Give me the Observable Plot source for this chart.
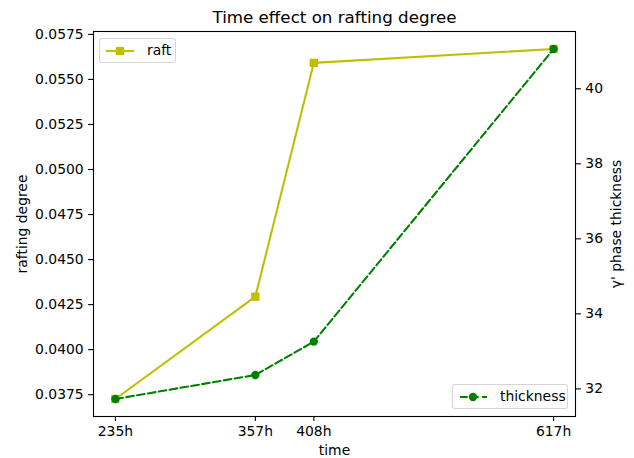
<!DOCTYPE html>
<html><head><meta charset="utf-8">
<script src="https://cdn.jsdelivr.net/npm/d3@7"></script>
<script src="https://cdn.jsdelivr.net/npm/@observablehq/plot@0.6"></script>
<style>
body{margin:0;background:#fff;}
#wrap{position:relative;width:634px;height:458px;font-family:"DejaVu Sans",sans-serif;}
#wrap > svg{position:absolute;left:0;top:0;overflow:visible;}
.legend{position:absolute;background:rgba(255,255,255,0.8);border:1px solid rgba(204,204,204,0.8);border-radius:3px;box-sizing:border-box;font-size:13.9px;color:#000;}
.legend svg{position:absolute;left:0;top:0;}
.legend span{position:absolute;white-space:nowrap;line-height:1;}
</style></head><body><div id="wrap"></div>
<script>
const times = [235, 357, 408, 617];
const timeLabels = ["235h", "357h", "408h", "617h"];
const raft = [0.03726, 0.04294, 0.05592, 0.05669];
const thickness = [31.73, 32.37, 33.26, 41.06];
const raftTicks = [0.0375, 0.0400, 0.0425, 0.0450, 0.0475, 0.0500, 0.0525, 0.0550, 0.0575];
const thicknessTicks = [32, 34, 36, 38, 40];
const titleText = "Time effect on rafting degree";
const xLabel = "time";
const yLabelLeft = "rafting degree";
const yLabelRight = "γ' phase thickness";
const seriesNames = ["raft", "thickness"];
const colors = ["#bfbf00", "#008000"];

const W = 634, H = 458, mL = 93, mR = 59, mT = 31, mB = 42;
function pad(arr){ const lo = d3.min(arr), hi = d3.max(arr), m = (hi - lo) * 0.05; return [lo - m, hi + m]; }
const rows = times.map((t, i) => ({t, raft: raft[i], thickness: thickness[i]}));
const xDom = pad(times);
const common = {width: W, height: H, marginLeft: mL, marginRight: mR, marginTop: mT, marginBottom: mB,
  style: {fontFamily: "DejaVu Sans", fontSize: "13.9px", color: "#000", background: "transparent", overflow: "visible"}};
const lw = 2.08;

const p1 = Plot.plot({...common,
  x: {domain: xDom}, y: {domain: pad(raft)},
  marks: [
    Plot.line(rows, {x: "t", y: "raft", stroke: colors[0], strokeWidth: lw}),
    Plot.dot(rows, {x: "t", y: "raft", symbol: "square", r: 4.7, fill: colors[0]}),
    Plot.frame({stroke: "#000", strokeWidth: 1.1}),
    Plot.axisX({ticks: times, tickFormat: d => timeLabels[times.indexOf(d)], tickSize: 4.9, tickPadding: 4.9, label: null, strokeWidth: 1.1}),
    Plot.axisY({ticks: raftTicks, tickFormat: d3.format(".4f"), tickSize: 4.9, tickPadding: 4.9, label: null, strokeWidth: 1.1}),
    Plot.text([titleText], {frameAnchor: "top", dy: -8.3, lineAnchor: "bottom", fontSize: 16.7, text: d => d}),
    Plot.text([xLabel], {frameAnchor: "bottom", dy: 29, lineAnchor: "top", text: d => d}),
    Plot.text([yLabelLeft], {frameAnchor: "left", dx: -71, rotate: -90, textAnchor: "middle", text: d => d}),
  ]});

const p2 = Plot.plot({...common,
  x: {domain: xDom, axis: null}, y: {domain: pad(thickness), axis: null},
  marks: [
    Plot.line(rows, {x: "t", y: "thickness", stroke: colors[1], strokeWidth: lw, strokeDasharray: "7.7,3.3"}),
    Plot.dot(rows, {x: "t", y: "thickness", r: 4.15, fill: colors[1]}),
    Plot.axisY({anchor: "right", ticks: thicknessTicks, tickSize: 4.9, tickPadding: 4.9, label: null, strokeWidth: 1.1}),
    Plot.text([yLabelRight], {frameAnchor: "right", dx: 41, rotate: -90, textAnchor: "middle", text: d => d}),
  ]});

const wrap = document.getElementById("wrap");
wrap.appendChild(p1);
wrap.appendChild(p2);

function legend(name, color, kind, box){
  const div = document.createElement("div");
  div.className = "legend";
  Object.assign(div.style, {left: box.left + "px", top: box.top + "px", width: box.width + "px", height: box.height + "px"});
  const ns = "http://www.w3.org/2000/svg";
  const s = document.createElementNS(ns, "svg");
  s.setAttribute("width", box.width); s.setAttribute("height", box.height);
  const cy = box.height / 2 - 0.5;
  const ln = document.createElementNS(ns, "line");
  ln.setAttribute("x1", 6); ln.setAttribute("x2", 34); ln.setAttribute("y1", cy); ln.setAttribute("y2", cy);
  ln.setAttribute("stroke", color); ln.setAttribute("stroke-width", lw);
  if (kind === "circle") ln.setAttribute("stroke-dasharray", "7.7,3.3");
  if (kind === "circle") ln.setAttribute("stroke-dashoffset", "-1");
  s.appendChild(ln);
  let mk;
  if (kind === "square") {
    mk = document.createElementNS(ns, "rect");
    mk.setAttribute("x", 20 - 4.15); mk.setAttribute("y", cy - 4.15); mk.setAttribute("width", 8.3); mk.setAttribute("height", 8.3);
  } else {
    mk = document.createElementNS(ns, "circle");
    mk.setAttribute("cx", 20); mk.setAttribute("cy", cy); mk.setAttribute("r", 4.15);
  }
  mk.setAttribute("fill", color);
  s.appendChild(mk);
  div.appendChild(s);
  const sp = document.createElement("span");
  sp.textContent = name;
  sp.style.left = "47px"; sp.style.top = (cy - 7) + "px";
  div.appendChild(sp);
  wrap.appendChild(div);
}
legend(seriesNames[0], colors[0], "square", {left: 99, top: 38, width: 77, height: 25});
legend(seriesNames[1], colors[1], "circle", {left: 452, top: 384, width: 116, height: 25});
</script></body></html>
